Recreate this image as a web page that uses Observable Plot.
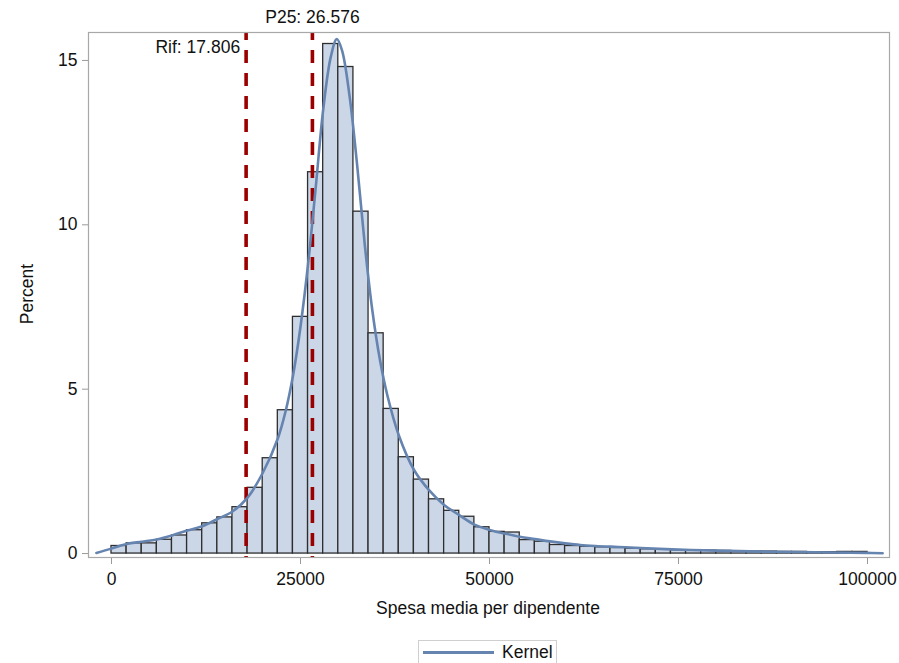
<!DOCTYPE html>
<html>
<head>
<meta charset="utf-8">
<script src="https://cdn.jsdelivr.net/npm/d3@7"></script>
<script src="https://cdn.jsdelivr.net/npm/@observablehq/plot@0.6"></script>
<style>
  html, body { margin: 0; padding: 0; background: #fff; }
  #wrap { position: relative; width: 899px; height: 663px; overflow: hidden; font-family: "Liberation Sans", Arial, sans-serif; color: #111; }
  #wrap svg { font-family: "Liberation Sans", Arial, sans-serif; }
  g[aria-label="x-axis tick"], g[aria-label="y-axis tick"] { stroke: #9a9a9a; }
  .axlab { position: absolute; font-size: 17.5px; white-space: nowrap; line-height: 1; }
  #xlab { left: 488px; top: 609px; transform: translate(-50%, -50%); }
  #ylab { left: 28px; top: 294px; transform: translate(-50%, -50%) rotate(-90deg); }
  #legend { position: absolute; left: 418px; top: 640px; width: 139px; height: 30px; border: 1px solid #cfcfcf; box-sizing: border-box; display: flex; align-items: flex-start; }
  #legend .sw { margin-left: 4px; margin-top: 10px; width: 71px; height: 3px; background: #6684b0; }
  #legend .lb { margin-left: 8px; margin-top: 1px; font-size: 17.5px; color: #111; }
</style>
</head>
<body>
<div id="wrap">
  <div class="axlab" id="xlab">Spesa media per dipendente</div>
  <div class="axlab" id="ylab">Percent</div>
  <div id="legend"><div class="sw"></div><div class="lb">Kernel</div></div>
</div>
<script>
// Histogram bins (left edges, width 2000) and percent heights
const binStart = [0,2000,4000,6000,8000,10000,12000,14000,16000,18000,20000,22000,24000,26000,28000,30000,32000,34000,36000,38000,40000,42000,44000,46000,48000,50000,52000,54000,56000,58000,60000,62000,64000,66000,68000,70000,72000,74000,76000,78000,80000,82000,84000,86000,88000,90000,92000,94000,96000,98000];
const binEnd = [2000,4000,6000,8000,10000,12000,14000,16000,18000,20000,22000,24000,26000,28000,30000,32000,34000,36000,38000,40000,42000,44000,46000,48000,50000,52000,54000,56000,58000,60000,62000,64000,66000,68000,70000,72000,74000,76000,78000,80000,82000,84000,86000,88000,90000,92000,94000,96000,98000,100000];
const percent = [0.23,0.31,0.31,0.42,0.55,0.71,0.92,1.10,1.41,2.00,2.90,4.36,7.20,11.60,15.50,14.80,10.40,6.70,4.40,2.93,2.25,1.65,1.30,1.12,0.80,0.66,0.64,0.41,0.36,0.26,0.23,0.21,0.19,0.17,0.15,0.13,0.12,0.10,0.09,0.09,0.08,0.07,0.06,0.06,0.05,0.05,0.04,0.04,0.05,0.05];

// Kernel density estimate (percent scale)
const kernelX = [-2000,0,2000,4000,6000,8000,10000,12000,14000,16000,18000,20000,22000,23000,24000,25000,26000,27000,28000,29000,29800,30500,31500,32500,33500,34500,35500,36500,38000,40000,42000,44000,46000,48000,50000,52000,54000,56000,58000,60000,62000,64000,67000,70000,75000,80000,86000,93000,100000,102000];
const kernelY = [0.02,0.15,0.29,0.36,0.43,0.55,0.70,0.83,1.05,1.28,1.70,2.45,3.50,4.30,5.40,6.90,8.80,11.10,13.50,15.10,15.65,15.30,13.90,11.80,9.40,7.40,5.90,4.80,3.60,2.55,1.93,1.48,1.17,0.88,0.72,0.61,0.51,0.44,0.37,0.31,0.26,0.23,0.20,0.17,0.12,0.09,0.06,0.04,0.02,0.01];

// Reference lines
const refValues = [17806, 26576];
const refLabels = ["Rif: 17.806", "P25: 26.576"];

// Axis ticks
const xTicks = [0, 25000, 50000, 75000, 100000];
const yTicks = [0, 5, 10, 15];

const bins = binStart.map((s, i) => ({x1: s, x2: binEnd[i], y: percent[i]}));
const kernel = kernelX.map((x, i) => ({x, y: kernelY[i]}));
const refs = refValues.map((v, i) => ({v, label: refLabels[i]}));

const chart = Plot.plot({
  width: 899,
  height: 632,
  marginLeft: 88,
  marginRight: 10,
  marginTop: 32,
  marginBottom: 75,
  style: {fontSize: "17.5px", fontFamily: "Liberation Sans, Arial, sans-serif", color: "#111", background: "white"},
  x: {domain: [-3042, 102910], ticks: xTicks, tickFormat: d3.format("d"), tickSize: 7, tickPadding: 8, label: null},
  y: {domain: [-0.12, 15.85], ticks: yTicks, tickSize: 6, tickPadding: 5, label: null},
  marks: [
    Plot.rectY(bins, {x1: "x1", x2: "x2", y: "y", fill: "#cbd6e7", stroke: "#2e2e2e", strokeWidth: 1.3}),
    Plot.ruleX(refs, {x: "v", stroke: "#9b0000", strokeWidth: 3.6, strokeDasharray: "13,10", strokeDashoffset: 5}),
    Plot.line(kernel, {x: "x", y: "y", stroke: "#6684b0", strokeWidth: 2.6, curve: "catmull-rom"}),
    Plot.text(refs.filter((d, i) => i === 1), {x: "v", text: "label", frameAnchor: "top", dy: -15, lineAnchor: "middle", textAnchor: "middle", fill: "#111"}),
    Plot.text(refs.filter((d, i) => i === 0), {x: "v", text: "label", frameAnchor: "top", dy: 15, dx: -6, lineAnchor: "middle", textAnchor: "end", fill: "#111"}),
    Plot.frame({stroke: "#a8a8a8", strokeWidth: 1.2})
  ]
});
document.getElementById("wrap").prepend(chart);
</script>
</body>
</html>
